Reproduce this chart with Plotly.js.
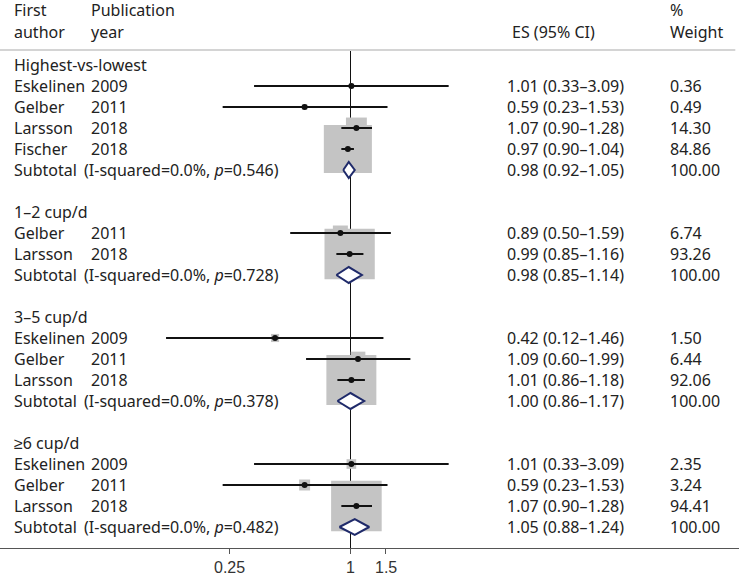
<!DOCTYPE html>
<html>
<head>
<meta charset="utf-8">
<script src="https://cdn.plot.ly/plotly-3.0.1.min.js"></script>
<style>
  html, body { margin: 0; padding: 0; background: #fff; }
  #plot { width: 739px; height: 577px; }
</style>
</head>
<body>
<div id="plot"></div>
<script>
// row index (top to bottom), one entry per drawn row
var rows     = [0, 1, 2, 3, 4, 5, 7, 8, 9, 10, 12, 13, 14, 15, 16, 18, 19, 20, 21, 22];
var kinds    = ['group', 'study', 'study', 'study', 'study', 'sub',
                'group', 'study', 'study', 'sub',
                'group', 'study', 'study', 'study', 'sub',
                'group', 'study', 'study', 'study', 'sub'];
var authors  = ['Highest-vs-lowest', 'Eskelinen', 'Gelber', 'Larsson', 'Fischer', 'Subtotal',
                '1–2 cup/d', 'Gelber', 'Larsson', 'Subtotal',
                '3–5 cup/d', 'Eskelinen', 'Gelber', 'Larsson', 'Subtotal',
                '≥6 cup/d', 'Eskelinen', 'Gelber', 'Larsson', 'Subtotal'];
var years    = ['', '2009', '2011', '2018', '2018', '',
                '', '2011', '2018', '',
                '', '2009', '2011', '2018', '',
                '', '2009', '2011', '2018', ''];
var pvals    = ['', '', '', '', '', '0.546', '', '', '', '0.728', '', '', '', '', '0.378', '', '', '', '', '0.482'];
var es       = [null, 1.01, 0.59, 1.07, 0.97, 0.98, null, 0.89, 0.99, 0.98, null, 0.42, 1.09, 1.01, 1.00, null, 1.01, 0.59, 1.07, 1.05];
var lo       = [null, 0.33, 0.23, 0.90, 0.90, 0.92, null, 0.50, 0.85, 0.85, null, 0.12, 0.60, 0.86, 0.86, null, 0.33, 0.23, 0.90, 0.88];
var hi       = [null, 3.09, 1.53, 1.28, 1.04, 1.05, null, 1.59, 1.16, 1.14, null, 1.46, 1.99, 1.18, 1.17, null, 3.09, 1.53, 1.28, 1.24];
var weights  = [null, 0.36, 0.49, 14.30, 84.86, 100.00, null, 6.74, 93.26, 100.00, null, 1.50, 6.44, 92.06, 100.00, null, 2.35, 3.24, 94.41, 100.00];

var tickVals = [0.25, 1, 1.5];
var tickText = ['0.25', '1', '1.5'];

var FONT = 'Noto Sans, sans-serif';
var TXT = '#222';
var fmt = function (v) { return v.toFixed(2); };

// study markers
var bx = [], by = [], bs = [], dx = [], dy = [], cx = [], cy = [];
var mx = [], my = [];
rows.forEach(function (r, i) {
  if (kinds[i] === 'study') {
    bx.push(es[i]); by.push(r); bs.push(5.0 * Math.sqrt(weights[i]) + 2);
    dx.push(es[i]); dy.push(r);
    cx.push(lo[i], hi[i], null); cy.push(r, r, null);
  } else if (kinds[i] === 'sub') {
    var h = 0.38;
    mx.push(lo[i], es[i], hi[i], es[i], lo[i], null);
    my.push(r, r - h, r, r + h, r, null);
  }
});

var yTop = -0.714, yBot = 23.0;

var traces = [
  { x: [1, 1], y: [yTop, yBot], mode: 'lines', line: {color: '#111', width: 1}, hoverinfo: 'skip' },
  { x: bx, y: by, mode: 'markers', marker: {symbol: 'square', size: bs, color: '#c4c4c4', opacity: 1, line: {width: 0}}, hoverinfo: 'skip' },
  { x: cx, y: cy, mode: 'lines', line: {color: '#111', width: 2}, hoverinfo: 'skip' },
  { x: dx, y: dy, mode: 'markers', marker: {size: 6, color: '#111'}, hoverinfo: 'skip' },
  { x: mx, y: my, mode: 'lines', fill: 'toself', fillcolor: '#fff', line: {color: '#1f2a6a', width: 2}, hoverinfo: 'skip' }
];

var ann = [];
function txt(xpx, y, s) {
  ann.push({ xref: 'paper', yref: 'y', x: xpx / 739, y: y, text: s, showarrow: false,
    xanchor: 'left', yanchor: 'middle', font: {family: FONT, size: 16, color: TXT} });
}
function head(xpx, ypx, s) {
  ann.push({ xref: 'paper', yref: 'paper', x: xpx / 739, y: (548 - ypx) / 498, text: s, showarrow: false,
    xanchor: 'left', yanchor: 'middle', font: {family: FONT, size: 16, color: TXT} });
}
// header
head(12, 10, 'First'); head(12, 32, 'author');
head(89, 10, 'Publication'); head(89, 32, 'year');
head(510, 32, 'ES (95% CI)');
head(668, 10, '%'); head(668, 32, 'Weight');

rows.forEach(function (r, i) {
  txt(12, r, authors[i]);
  if (kinds[i] === 'study') txt(89, r, years[i]);
  if (kinds[i] === 'sub') txt(82, r, '(I-squared=0.0%, <i>p</i>=' + pvals[i] + ')');
  if (es[i] !== null) {
    txt(505, r, fmt(es[i]) + ' (' + fmt(lo[i]) + '–' + fmt(hi[i]) + ')');
    txt(668, r, fmt(weights[i]));
  }
});

// x tick labels (log axis: annotation x is log10 of the value)
tickVals.forEach(function (v, i) {
  ann.push({ xref: 'x', yref: 'paper', x: Math.log10(v), y: 0, yshift: -19, text: tickText[i],
    showarrow: false, xanchor: 'center', yanchor: 'middle',
    font: {family: 'Liberation Sans, Arial, sans-serif', size: 16, color: '#333'} });
});

var layout = {
  width: 739, height: 577,
  margin: {l: 0, r: 0, t: 50, b: 29},
  paper_bgcolor: '#fff', plot_bgcolor: '#fff',
  showlegend: false,
  xaxis: {
    type: 'log', range: [-1.7497, 1.9393], fixedrange: true,
    tickmode: 'array', tickvals: tickVals, showticklabels: false,
    ticks: 'outside', ticklen: 5, tickcolor: '#555',
    showline: true, linecolor: '#555', linewidth: 1,
    showgrid: false, zeroline: false
  },
  yaxis: {
    range: [yBot, yTop], fixedrange: true,
    showticklabels: false, showgrid: false, zeroline: false, showline: false, ticks: ''
  },
  shapes: [
    { type: 'line', xref: 'paper', yref: 'paper', x0: 0, x1: 0.995, y0: 1, y1: 1,
      line: {color: '#d4d4d4', width: 2} }
  ],
  annotations: ann
};

Plotly.newPlot('plot', traces, layout, {displayModeBar: false, staticPlot: true});
</script>
</body>
</html>
